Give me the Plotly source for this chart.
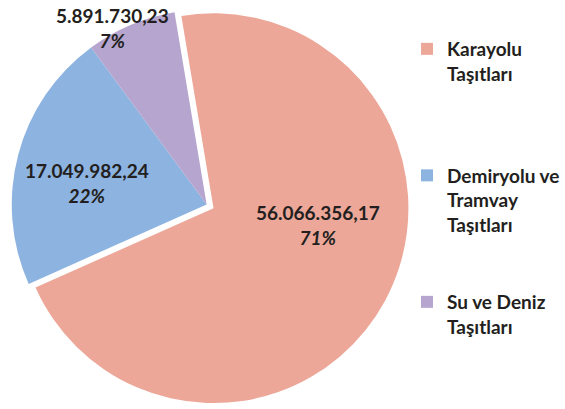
import plotly.graph_objects as go

categories = ["Karayolu<br>Taşıtları", "Demiryolu ve<br>Tramvay<br>Taşıtları", "Su ve Deniz<br>Taşıtları"]
values = [56066356.17, 17049982.24, 5891730.23]
colors = ["#ECA798", "#8DB3E0", "#B6A6CF"]
pulls = [0.04, 0, 0]
# extra blank lines that reproduce the legend's vertical spacing
legend_pad = ["<br><br><br>", "<br><br>", ""]

FONT = "Lato"
TXT = "#231F20"

def tr_fmt(v):
    s = f"{v:,.2f}"
    return s.replace(",", "X").replace(".", ",").replace("X", ".")

total = sum(values)
pcts = [round(v / total * 100) for v in values]

fig = go.Figure(go.Pie(
    labels=[c + p for c, p in zip(categories, legend_pad)],
    values=values,
    sort=False,
    direction="clockwise",
    rotation=-9.5,
    pull=pulls,
    marker=dict(colors=colors, line=dict(width=0)),
    textinfo="none",
    domain=dict(x=[4/565, 413/565], y=[0, 1]),
    hoverinfo="value+percent",
))

# value labels (positions as in the reference)
label_pos = [(321/565, 1-225.5/409), (88/565, 1-183/409), (113/565, 1-28/409)]
for v, p, (lx, ly) in zip(values, pcts, label_pos):
    fig.add_annotation(
        x=lx, y=ly, xref="paper", yref="paper", xanchor="center", yanchor="middle",
        text=f"{tr_fmt(v)}<br><i>{p}%</i>",
        showarrow=False, font=dict(family=FONT, size=19, color=TXT, weight="bold"),
    )

fig.update_layout(
    width=565, height=409,
    margin=dict(l=0, r=0, t=0, b=0),
    paper_bgcolor="white", plot_bgcolor="white",
    separators=",.",
    showlegend=True,
    legend=dict(
        x=411/565, y=1-30/409, xanchor="left", yanchor="top",
        font=dict(family=FONT, size=19, color=TXT, weight="bold"),
        valign="top",
        bgcolor="rgba(0,0,0,0)",
    ),
)

fig.write_html("out.html", config={"displayModeBar": False},
               post_script="document.body.style.margin='0';")
